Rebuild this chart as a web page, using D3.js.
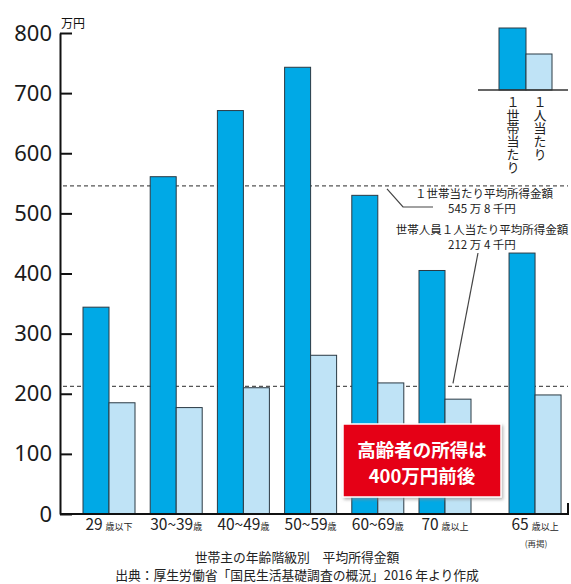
<!DOCTYPE html>
<html>
<head>
<meta charset="utf-8">
<script src="https://cdn.jsdelivr.net/npm/d3@7"></script>
<style>
  body { margin: 0; background: #fff; }
  svg { font-family: "Noto Sans CJK JP", "Noto Sans", sans-serif; }
</style>
</head>
<body>
<svg id="chart" width="571" height="584"></svg>
<script>
// data (万円)
const ages      = ["29", "30~39", "40~49", "50~59", "60~69", "70", "65"]
const ageSuffix = ["歳以下", "歳", "歳", "歳", "歳", "歳以上", "歳以上"]
const perHousehold = [344, 561, 671, 743, 530, 405, 434]
const perPerson    = [185, 177, 210, 264, 218, 191, 198]
const yTicks = [0, 100, 200, 300, 400, 500, 600, 700, 800]
const averages = [545.8, 212.4]
const legendLabels = ["１世帯当たり", "１人当たり"]
const calloutLines = ["高齢者の所得は", "400万円前後"]
const footerLines = ["世帯主の年齢階級別　平均所得金額", "出典：厚生労働省「国民生活基礎調査の概況」2016 年より作成"]

const dark = "#00a9e6", light = "#bfe3f6", edge = "#2b3a44"

let svg = d3.select("#chart")

let y = d3.scaleLinear().domain([0, 800]).range([514, 33])
// last group (65歳以上, 再掲) sits apart from the others
let slot = i => i < 6 ? i : i + 0.34
let x = d3.scaleLinear().domain([0, 5]).range([83, 419])
let bw = 26

// dashed average lines (behind bars)
svg.selectAll(".avg")
  .data(averages).enter()
  .append("line")
  .attr("class", "avg")
  .attr("x1", 63).attr("x2", 568)
  .attr("y1", d => y(d)).attr("y2", d => y(d))
  .attr("stroke", "#555").attr("stroke-width", 1.3)
  .attr("stroke-dasharray", "4,3")

// bars
let groups = svg.selectAll(".grp")
  .data(ages).enter()
  .append("g")
  .attr("class", "grp")
  .attr("transform", (d, i) => `translate(${x(slot(i))},0)`)

groups.append("rect")
  .attr("x", 0).attr("width", bw)
  .attr("y", (d, i) => y(perHousehold[i]))
  .attr("height", (d, i) => y(0) - y(perHousehold[i]))
  .attr("fill", dark).attr("stroke", edge).attr("stroke-width", 1)

groups.append("rect")
  .attr("x", bw).attr("width", bw)
  .attr("y", (d, i) => y(perPerson[i]))
  .attr("height", (d, i) => y(0) - y(perPerson[i]))
  .attr("fill", light).attr("stroke", edge).attr("stroke-width", 1)

// category labels
let lab = groups.append("text")
  .attr("x", bw).attr("y", 530)
  .attr("text-anchor", "middle")
  .attr("fill", "#222")
lab.append("tspan").attr("font-size", 15.5).text(d => d)
lab.append("tspan").attr("font-size", 9).attr("dx", (d, i) => ageSuffix[i].length > 1 ? 3 : 0)
  .text((d, i) => ageSuffix[i])
groups.filter((d, i) => i == 6).append("text")
  .attr("x", bw + 1).attr("y", 547)
  .attr("text-anchor", "middle").attr("font-size", 8.5).attr("fill", "#333")
  .text("(再掲)")

// y axis
let yAxis = d3.axisLeft(y).tickValues(yTicks).tickSizeInner(-12).tickSizeOuter(0).tickPadding(8)
let ag = svg.append("g").attr("transform", "translate(60,0)").call(yAxis)
ag.select(".domain").attr("stroke", "#111").attr("stroke-width", 2)
ag.selectAll(".tick line").attr("stroke", "#111").attr("stroke-width", 2)
ag.selectAll(".tick text")
  .attr("font-family", "'Noto Sans', sans-serif")
  .attr("font-size", 22).attr("fill", "#1a1a1a")

svg.append("text").attr("x", 61).attr("y", 28)
  .attr("font-size", 12).attr("fill", "#111").text("万円")

// baseline
svg.append("path")
  .attr("d", `M60,${y(0)}H568V${y(0) - 11}`)
  .attr("fill", "none").attr("stroke", "#111").attr("stroke-width", 2)

// legend
let lg = svg.append("g").attr("transform", "translate(499,90)")
lg.append("rect").attr("x", 0).attr("y", -62).attr("width", 27).attr("height", 62)
  .attr("fill", dark).attr("stroke", edge)
lg.append("rect").attr("x", 27).attr("y", -36).attr("width", 26).attr("height", 36)
  .attr("fill", light).attr("stroke", edge)
lg.append("line").attr("x1", -21).attr("x2", 69).attr("stroke", "#333").attr("stroke-width", 1.3)
lg.selectAll(".vt")
  .data(legendLabels).enter()
  .append("text")
  .attr("class", "vt")
  .attr("x", (d, i) => 14 + i * 27).attr("y", 6)
  .style("writing-mode", "vertical-rl")
  .style("text-orientation", "upright")
  .attr("font-size", 13).attr("fill", "#222")
  .text(d => d)

// annotations
let note = svg.append("g").attr("font-size", 11.5).attr("fill", "#222").attr("text-anchor", "middle")
note.append("text").attr("x", 484).attr("y", 198).text("１世帯当たり平均所得金額")
note.append("text").attr("x", 482).attr("y", 213).text("545 万 8 千円")
note.append("text").attr("x", 482).attr("y", 234).text("世帯人員１人当たり平均所得金額")
note.append("text").attr("x", 482).attr("y", 249).text("212 万 4 千円")

svg.append("path").attr("d", `M387,${y(averages[0]) + 3}L403,207H433`)
  .attr("fill", "none").attr("stroke", "#444").attr("stroke-width", 1.2)
svg.append("path").attr("d", `M478,253L453,${y(averages[1]) - 3}`)
  .attr("fill", "none").attr("stroke", "#444").attr("stroke-width", 1.2)

// red callout
let defs = svg.append("defs")
let f = defs.append("filter").attr("id", "shadow").attr("x", "-10%").attr("y", "-10%").attr("width", "130%").attr("height", "140%")
f.append("feDropShadow").attr("dx", 1.5).attr("dy", 2).attr("stdDeviation", 1.5).attr("flood-color", "#888").attr("flood-opacity", 0.6)

svg.append("rect").attr("x", 343).attr("y", 424).attr("width", 158).attr("height", 73)
  .attr("fill", "#e50014").attr("stroke", "#fff").attr("stroke-width", 1.5)
  .attr("filter", "url(#shadow)")
svg.append("text")
  .attr("fill", "#fff").attr("font-weight", "bold").attr("text-anchor", "middle")
  .attr("font-size", 18.5).attr("y", 457)
  .selectAll("tspan").data(calloutLines).enter()
  .append("tspan").attr("x", 422).attr("dy", (d, i) => i ? 26 : 0)
  .text(d => d)

// footer
svg.append("text")
  .attr("fill", "#222").attr("text-anchor", "middle").attr("font-size", 12.8).attr("y", 562)
  .selectAll("tspan").data(footerLines).enter()
  .append("tspan").attr("x", 297).attr("dy", (d, i) => i ? 18 : 0)
  .text(d => d)
</script>
</body>
</html>
